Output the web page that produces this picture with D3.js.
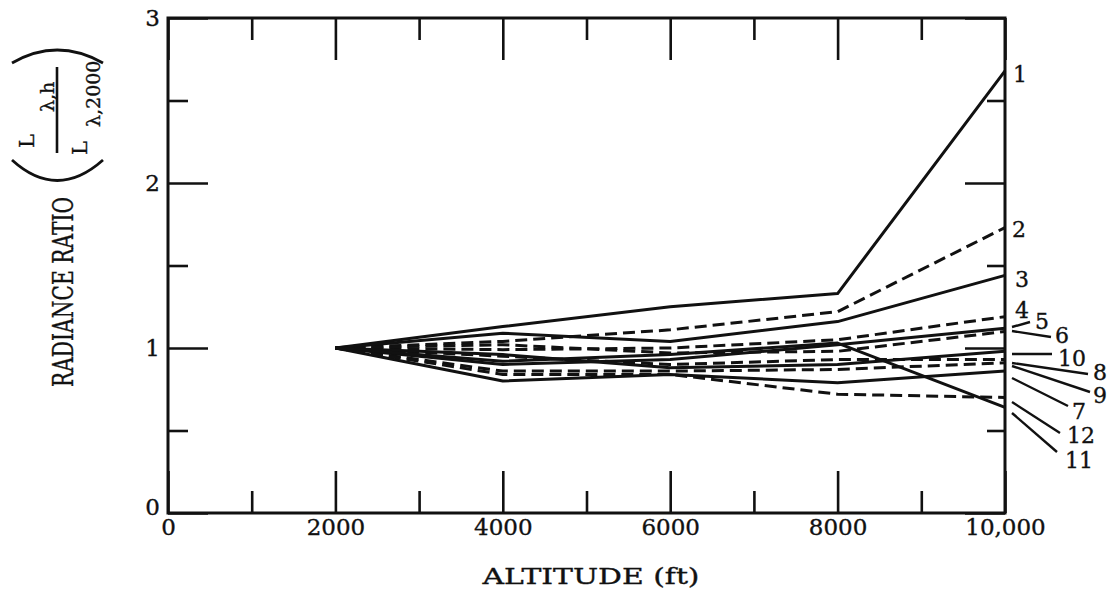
<!DOCTYPE html>
<html>
<head>
<meta charset="utf-8">
<script src="https://cdn.jsdelivr.net/npm/d3@7"></script>
<style>
  body { margin: 0; background: #fff; }
  text { font-family: "DejaVu Serif", "Liberation Serif", serif; fill: #111; stroke: #111; stroke-width: 0.35px; }
</style>
</head>
<body>
<div id="chart"></div>
<script>
// altitude in ft, ratio L(lambda,h) / L(lambda,2000)
const altitudes = [2000, 4000, 6000, 8000, 10000];
const curve1  = [1, 1.13, 1.25, 1.33, 2.68];
const curve2  = [1, 1.04, 1.11, 1.22, 1.73];
const curve3  = [1, 1.09, 1.04, 1.16, 1.44];
const curve4  = [1, 0.99, 1.00, 1.05, 1.19];
const curve5  = [1, 0.90, 0.93, 1.02, 1.12];
const curve6  = [1, 1.02, 0.97, 0.98, 1.10];
const curve7  = [1, 0.80, 0.84, 0.79, 0.86];
const curve8  = [1, 0.95, 0.90, 0.93, 0.93];
const curve9  = [1, 0.86, 0.86, 0.87, 0.91];
const curve10 = [1, 0.96, 0.88, 0.90, 0.98];
const curve11 = [1, 0.92, 0.96, 1.03, 0.64];
const curve12 = [1, 0.84, 0.84, 0.72, 0.70];

const curveNames = ["1","2","3","4","5","6","7","8","9","10","11","12"];
const curveValues = [curve1, curve2, curve3, curve4, curve5, curve6,
                     curve7, curve8, curve9, curve10, curve11, curve12];
const curveDashed = [false, true, false, true, false, true,
                     false, true, true, false, false, true];

const xTicksMajor = [0, 2000, 4000, 6000, 8000, 10000];
const xTickLabels = ["0", "2000", "4000", "6000", "8000", "10,000"];
const xTicksMinor = [1000, 3000, 5000, 7000, 9000];
const yTicksMajor = [0, 1, 2, 3];
const yTicksMinor = [0.5, 1.5, 2.5];

let margin = {top: 18, right: 112, bottom: 76, left: 168},
    width = 1117 - margin.left - margin.right,
    height = 589 - margin.top - margin.bottom;

const svg = d3.select("#chart").append("svg")
    .attr("width", 1117)
    .attr("height", 589);

const g = svg.append("g")
    .attr("transform", `translate(${margin.left},${margin.top})`);

const x = d3.scaleLinear().domain([0, 10000]).range([0, width]);
const y = d3.scaleLinear().domain([0, 3]).range([height, 0]);

// axes -- ticks point inward on all four sides
function styleAxis(sel) {
  sel.select(".domain").remove();
  sel.selectAll(".tick line").attr("stroke", "#111").attr("stroke-width", 2.6);
  sel.selectAll("text").style("font-size", "23px").attr("fill", "#111");
}

g.append("g").attr("transform", `translate(0,${height})`)
  .call(d3.axisBottom(x).tickValues(xTicksMajor).tickSize(-42).tickPadding(6)
        .tickFormat((d, i) => xTickLabels[i]))
  .call(styleAxis);
g.append("g").attr("transform", `translate(0,${height})`)
  .call(d3.axisBottom(x).tickValues(xTicksMinor).tickSize(-22).tickFormat(""))
  .call(styleAxis);
g.append("g")
  .call(d3.axisTop(x).tickValues(xTicksMajor).tickSize(-42).tickFormat(""))
  .call(styleAxis);
g.append("g")
  .call(d3.axisTop(x).tickValues(xTicksMinor).tickSize(-22).tickFormat(""))
  .call(styleAxis);

const yl = g.append("g")
  .call(d3.axisLeft(y).tickValues(yTicksMajor).tickSize(-40).tickPadding(8)
        .tickFormat(d3.format("d")))
  .call(styleAxis);
yl.selectAll(".tick text").attr("dy", (d) => d === 0 ? "0.05em" : "0.32em");
g.append("g")
  .call(d3.axisLeft(y).tickValues(yTicksMinor).tickSize(-20).tickFormat(""))
  .call(styleAxis);
g.append("g").attr("transform", `translate(${width},0)`)
  .call(d3.axisRight(y).tickValues(yTicksMajor).tickSize(-40).tickFormat(""))
  .call(styleAxis);
g.append("g").attr("transform", `translate(${width},0)`)
  .call(d3.axisRight(y).tickValues(yTicksMinor).tickSize(-18).tickFormat(""))
  .call(styleAxis);

// frame
g.append("rect")
  .attr("x", 0).attr("y", 0).attr("width", width).attr("height", height)
  .attr("fill", "none").attr("stroke", "#111").attr("stroke-width", 3);

// curves
const line = d3.line()
  .x((d, i) => x(altitudes[i]))
  .y(d => y(d));

g.selectAll(".curve")
  .data(curveValues)
  .enter()
  .append("path")
  .attr("class", "curve")
  .attr("d", d => line(d))
  .attr("fill", "none")
  .attr("stroke", "#111")
  .attr("stroke-width", 3)
  .attr("stroke-linejoin", "round")
  .attr("stroke-dasharray", (d, i) => curveDashed[i] ? "12,6" : null);

// curve labels at the right edge (label x, baseline y, leader end or none)
const labelX   = [1013, 1012, 1015, 1015, 1035, 1055, 1072, 1093, 1093, 1058, 1065, 1067];
const labelY   = [82, 237, 287, 318, 329, 343, 419, 380, 403, 366, 468, 443];
const leaderY0 = [null, null, null, null, 327, 331, 378, 363, 366, 354, 413, 402];
const leaderX1 = [null, null, null, null, 1030, 1051, 1068, 1088, 1090, 1052, 1057, 1060];
const leaderY1 = [null, null, null, null, 322, 337, 406, 374, 392, 354, 452, 433];

const labels = svg.append("g");
curveNames.forEach((name, i) => {
  labels.append("text")
    .attr("x", labelX[i]).attr("y", labelY[i])
    .style("font-size", "22px")
    .text(name);
  if (leaderY0[i] !== null) {
    labels.append("line")
      .attr("x1", margin.left + width + 7).attr("y1", leaderY0[i])
      .attr("x2", leaderX1[i]).attr("y2", leaderY1[i])
      .attr("stroke", "#111").attr("stroke-width", 2.4);
  }
});

// axis titles
svg.append("text")
  .attr("x", 591).attr("y", 584)
  .attr("text-anchor", "middle")
  .style("font-size", "22px")
  .attr("textLength", 217).attr("lengthAdjust", "spacingAndGlyphs")
  .text("ALTITUDE (ft)");

svg.append("text")
  .attr("transform", "translate(73,292) rotate(-90)")
  .attr("text-anchor", "middle")
  .style("font-size", "27px")
  .attr("textLength", 190).attr("lengthAdjust", "spacingAndGlyphs")
  .text("RADIANCE RATIO");

// the fraction  ( L_λ,h / L_λ,2000 ) drawn rotated
const frac = svg.append("g");
frac.append("path")
  .attr("d", "M12,160 Q57,201 103,160")
  .attr("fill", "none").attr("stroke", "#111").attr("stroke-width", 2.8);
frac.append("path")
  .attr("d", "M12,63 Q57,37 103,63")
  .attr("fill", "none").attr("stroke", "#111").attr("stroke-width", 2.8);
frac.append("line")
  .attr("x1", 57).attr("y1", 67).attr("x2", 57).attr("y2", 153)
  .attr("stroke", "#111").attr("stroke-width", 2.6);
frac.append("text")
  .attr("transform", "translate(34,148) rotate(-90)")
  .style("font-size", "21px").text("L");
frac.append("text")
  .attr("transform", "translate(54,112) rotate(-90)")
  .style("font-size", "19px").text("λ,h");
frac.append("text")
  .attr("transform", "translate(87,155) rotate(-90)")
  .style("font-size", "21px").text("L");
frac.append("text")
  .attr("transform", "translate(100,127) rotate(-90)")
  .style("font-size", "19px").text("λ,2000");
</script>
</body>
</html>
